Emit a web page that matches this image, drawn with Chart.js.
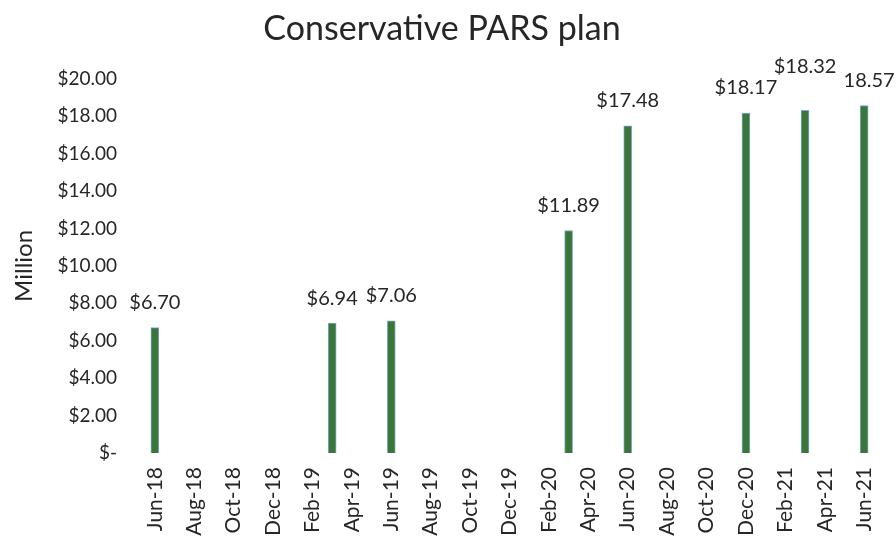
<!DOCTYPE html>
<html>
<head>
<meta charset="utf-8">
<script src="https://cdn.jsdelivr.net/npm/chart.js@4"></script>
<style>
  html, body { margin: 0; padding: 0; background: #fff; }
  #wrap { width: 896px; height: 539px; }
</style>
</head>
<body>
<div id="wrap"><canvas id="chart" width="896" height="539"></canvas></div>
<script>
// months on the x axis, Jun-18 .. Jun-21
const months = [
  'Jun-18', 'Jul-18', 'Aug-18', 'Sep-18', 'Oct-18', 'Nov-18', 'Dec-18',
  'Jan-19', 'Feb-19', 'Mar-19', 'Apr-19', 'May-19', 'Jun-19', 'Jul-19',
  'Aug-19', 'Sep-19', 'Oct-19', 'Nov-19', 'Dec-19', 'Jan-20', 'Feb-20',
  'Mar-20', 'Apr-20', 'May-20', 'Jun-20', 'Jul-20', 'Aug-20', 'Sep-20',
  'Oct-20', 'Nov-20', 'Dec-20', 'Jan-21', 'Feb-21', 'Mar-21', 'Apr-21',
  'May-21', 'Jun-21'
];

// months that have a balance and the balance ($ million)
const reportMonths = ['Jun-18', 'Mar-19', 'Jun-19', 'Mar-20', 'Jun-20', 'Dec-20', 'Mar-21', 'Jun-21'];
const balances = [6.70, 6.94, 7.06, 11.89, 17.48, 18.17, 18.32, 18.57];
const balanceLabels = ['$6.70', '$6.94', '$7.06', '$11.89', '$17.48', '$18.17', '$18.32', '18.57'];

const yTicks = [0, 2, 4, 6, 8, 10, 12, 14, 16, 18, 20];

const FONT = 'Lato, "Open Sans", sans-serif';

const values = months.map((m) => {
  const i = reportMonths.indexOf(m);
  return i === -1 ? null : balances[i];
});

// value labels over the bars, one is lifted so it clears its neighbours
const barLabels = {
  id: 'barLabels',
  afterDatasetsDraw(chart) {
    const ctx = chart.ctx;
    const meta = chart.getDatasetMeta(0);
    ctx.save();
    ctx.font = '20px ' + FONT;
    ctx.fillStyle = '#262626';
    ctx.textAlign = 'center';
    ctx.textBaseline = 'bottom';
    meta.data.forEach((bar, idx) => {
      const i = reportMonths.indexOf(months[idx]);
      if (i === -1) return;
      const lift = months[idx] === 'Mar-21' ? 19 : 0;
      const shift = months[idx] === 'Jun-21' ? 5 : 0;
      ctx.fillText(balanceLabels[i], bar.x + shift, bar.y - 15 - lift);
    });
    ctx.restore();
  }
};

new Chart(document.getElementById('chart'), {
  type: 'bar',
  data: {
    labels: months,
    datasets: [{
      data: values,
      backgroundColor: '#3a7637',
      borderColor: '#7fa9cf',
      borderWidth: 1,
      barThickness: 8
    }]
  },
  options: {
    responsive: false,
    animation: false,
    layout: { padding: { left: 10, right: 22, top: 0, bottom: 0 } },
    plugins: {
      legend: { display: false },
      tooltip: { enabled: false },
      title: {
        display: true,
        text: 'Conservative PARS plan',
        color: '#262626',
        font: { family: FONT, size: 34, weight: 'normal' },
        padding: { top: 9, bottom: 29 }
      }
    },
    scales: {
      x: {
        offset: true,
        afterFit: (axis) => { axis.height = 86; },
        grid: { display: false },
        border: { display: false },
        ticks: {
          autoSkip: false,
          minRotation: 90,
          maxRotation: 90,
          padding: 6,
          color: '#262626',
          font: { family: FONT, size: 21 },
          callback: (v, i) => (i % 2 === 0 ? months[i] : '')
        }
      },
      y: {
        min: 0,
        max: 20,
        afterBuildTicks: (axis) => { axis.ticks = yTicks.map((v) => ({ value: v })); },
        afterFit: (axis) => { axis.width = 135; },
        grid: { display: false },
        border: { display: false },
        title: {
          display: true,
          text: 'Million',
          color: '#262626',
          font: { family: FONT, size: 24 },
          padding: 0
        },
        ticks: {
          padding: 20,
          color: '#262626',
          font: { family: FONT, size: 19 },
          callback: (v) => (v === 0 ? '$-' : '$' + v.toFixed(2))
        }
      }
    }
  },
  plugins: [barLabels]
});
</script>
</body>
</html>
